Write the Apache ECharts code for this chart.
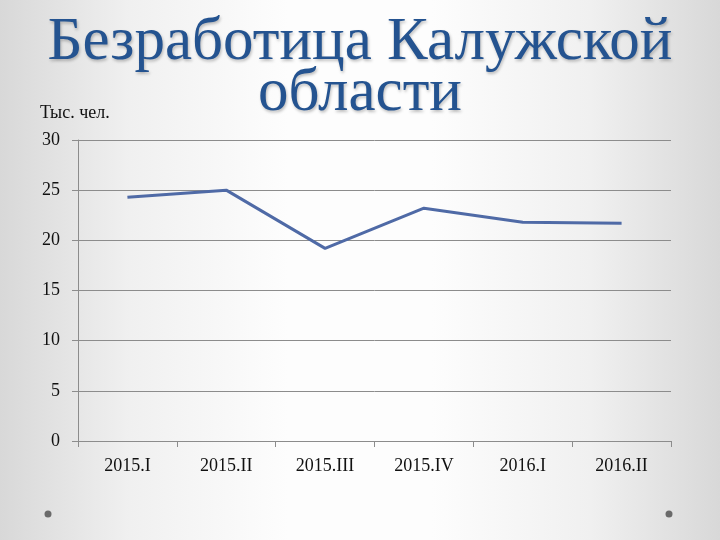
<!DOCTYPE html>
<html>
<head>
<meta charset="utf-8">
<script src="https://cdn.jsdelivr.net/npm/echarts@6/dist/echarts.min.js"></script>
<style>
html,body{margin:0;padding:0;width:720px;height:540px;overflow:hidden;}
#c{width:720px;height:540px;}
</style>
</head>
<body>
<div id="c"></div>
<script>
var categories = ['2015.I', '2015.II', '2015.III', '2015.IV', '2016.I', '2016.II'];
var unemployment = [24.3, 25.0, 19.2, 23.2, 21.8, 21.7];
var yTicks = [0, 5, 10, 15, 20, 25, 30];

var chart = echarts.init(document.getElementById('c'));
var serif = '"Liberation Serif", "DejaVu Serif", serif';
chart.setOption({
  backgroundColor: {
    type: 'linear', x: 0, y: 0, x2: 1, y2: 0,
    colorStops: [
      {offset: 0, color: '#d8d8d8'},
      {offset: 0.18, color: '#f0f0f0'},
      {offset: 0.4, color: '#fdfdfd'},
      {offset: 0.6, color: '#fdfdfd'},
      {offset: 0.82, color: '#f0f0f0'},
      {offset: 1, color: '#d8d8d8'}
    ]
  },
  animation: false,
  title: {
    text: 'Безработица Калужской\nобласти',
    left: 'center',
    top: 12,
    textStyle: {
      fontFamily: serif,
      fontWeight: 'normal',
      fontSize: 61,
      lineHeight: 51,
      color: '#245390',
      textShadowColor: 'rgba(0,0,0,0.25)',
      textShadowBlur: 3,
      textShadowOffsetX: 1,
      textShadowOffsetY: 2
    }
  },
  grid: {left: 78, right: 49, top: 140, bottom: 99},
  xAxis: {
    type: 'category',
    data: categories,
    boundaryGap: true,
    axisLine: {lineStyle: {color: '#8c8c8c', width: 1}},
    axisTick: {show: true, length: 6, lineStyle: {color: '#8c8c8c'}},
    axisLabel: {fontFamily: serif, fontSize: 18, color: '#111', margin: 16}
  },
  yAxis: {
    type: 'value',
    min: 0, max: 30, interval: 5,
    axisLine: {show: true, lineStyle: {color: '#8c8c8c', width: 1}},
    axisTick: {show: true, length: 6, lineStyle: {color: '#8c8c8c'}},
    splitLine: {lineStyle: {color: '#8c8c8c', width: 1}},
    axisLabel: {fontFamily: serif, fontSize: 18, color: '#111', margin: 18,
      formatter: function (v) { return yTicks.indexOf(v) >= 0 ? String(v) : ''; }}
  },
  series: [{
    type: 'line',
    data: unemployment,
    symbol: 'none',
    lineStyle: {color: '#4f6aa6', width: 3}
  }],
  graphic: [
    {type: 'text', left: 40, top: 104, style: {text: 'Тыс. чел.', font: '18px ' + serif, fill: '#111'}},
    {type: 'circle', shape: {cx: 48, cy: 514, r: 3.5}, style: {fill: '#6a6a6a'}},
    {type: 'circle', shape: {cx: 669, cy: 514, r: 3.5}, style: {fill: '#6a6a6a'}}
  ]
});
</script>
</body>
</html>
